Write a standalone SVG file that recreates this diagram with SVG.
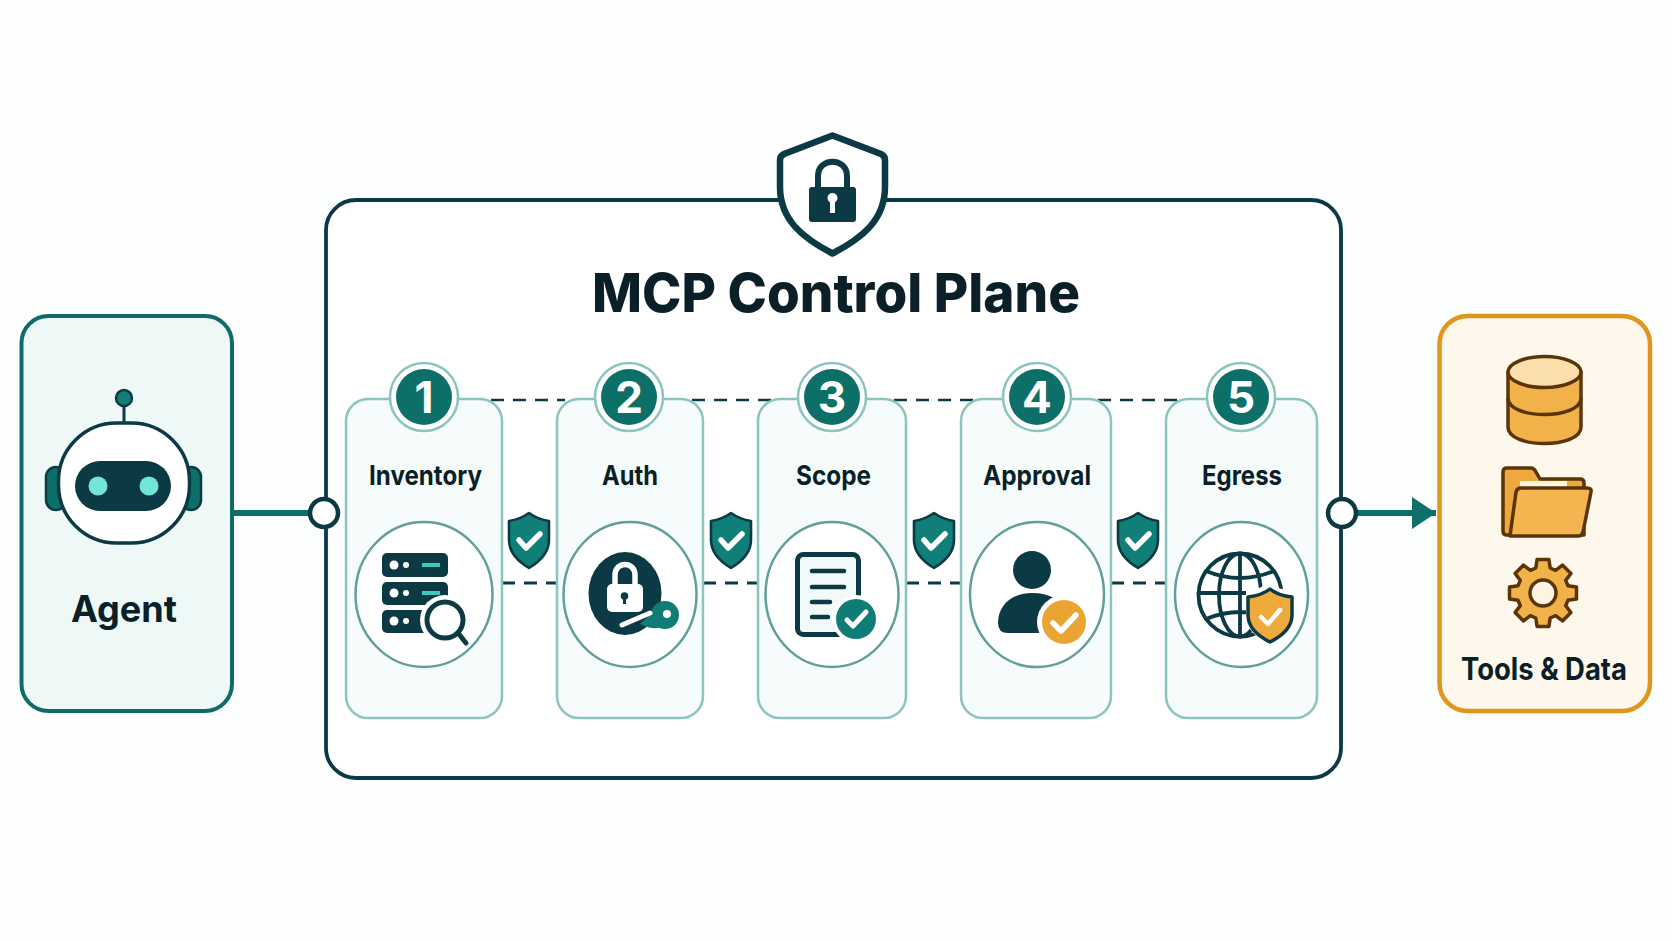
<svg xmlns="http://www.w3.org/2000/svg" width="1672" height="941" viewBox="0 0 1672 941">
<style>
text{font-family:Inter,"Liberation Sans",sans-serif;text-anchor:middle;fill:#0a1f27}
.lbl{font-size:27.5px;font-weight:700}
.num{font-size:44px;font-weight:700;fill:#fff}
.card{fill:#f6fbfb;stroke:#8cc4bf;stroke-width:2.5}
.ring{fill:#fff;stroke:#8cc4bf;stroke-width:2.5}
.disc{fill:#0c6f68}
.well{fill:#fff;stroke:#609f9a;stroke-width:2.5}
.dk{fill:#0c3a44}
.ln{fill:none;stroke:#0c3a44;stroke-linecap:round}
.dash{fill:none;stroke:#0c3a44;stroke-width:2.6;stroke-dasharray:13 9}
.wire{fill:none;stroke:#0f6f69;stroke-width:6}
.port{fill:#fff;stroke:#0c3a44;stroke-width:4.5}
.chk{fill:none;stroke:#fff;stroke-linecap:round;stroke-linejoin:round}
.am{stroke:#5b3408;stroke-width:3.5;stroke-linejoin:round}
</style>
<defs>
<marker id="arrow" markerUnits="userSpaceOnUse" markerWidth="26" markerHeight="34" refX="24" refY="16" orient="auto"><path d="M0 0L24 16L0 32Z" fill="#0f6f69"/></marker>
<g id="shieldS">
<path d="M0-27C7-22 13-20 20-19V0C20 13 10 22 0 28C-10 22-20 13-20 0V-19C-13-20-7-22 0-27Z" fill="#0f7f78" stroke="#0c3a44" stroke-width="2.6" stroke-linejoin="round"/>
<path class="chk" d="M-10 0L-3 8L11-6" stroke-width="5.5"/>
</g>
</defs>
<rect width="1672" height="941" fill="#fdfefe"/>

<g id="control-plane">
<rect x="326" y="200" width="1015" height="578" rx="30" fill="#fff" stroke="#0c3a44" stroke-width="3.800"/>
<path d="M832.5 135.500L881 154Q885 156 885 160V187C885 220 862 238 832.500 253.500C803 238 780 220 780 187V160Q780 156 784 154Z" fill="#fff" stroke="#0c3a44" stroke-width="6.500" stroke-linejoin="round"/>
<path class="ln" stroke-width="6" d="M818 190V176C818 157 847 157 847 176V190"/>
<rect x="809" y="187" width="47" height="35" rx="3" class="dk"/>
<circle cx="832.500" cy="198" r="5" fill="#fff"/>
<rect x="830" y="198" width="5" height="15" fill="#fff"/>
<text x="836" y="312" style="font-size:54px;font-weight:800" textLength="488" lengthAdjust="spacingAndGlyphs">MCP Control Plane</text>
</g>

<g id="connectors">
<path class="wire" d="M234 513H312"/>
<path class="wire" d="M1356 513H1436" marker-end="url(#arrow)"/>
<path class="dash" d="M491 400H565M692 400H771M894 400H973M1098 400H1177"/>
<path class="dash" style="stroke-width:3" d="M502 583H557M703 583H758M906 583H961M1111 583H1166"/>
</g>

<g id="agent">
<rect x="21.500" y="316" width="210.500" height="395" rx="27" fill="#eef8f7" stroke="#0f6b68" stroke-width="4"/>
<path d="M124 423V402" class="ln" stroke-width="3"/>
<circle cx="124" cy="398" r="8" fill="#0f7f78" stroke="#0c3a44" stroke-width="2.500"/>
<rect x="46" y="467" width="20" height="43" rx="10" fill="#0c7069" stroke="#0c3a44" stroke-width="2.500"/>
<rect x="181" y="467" width="20" height="43" rx="10" fill="#0c7069" stroke="#0c3a44" stroke-width="2.500"/>
<rect x="58.500" y="423" width="131" height="120" rx="58" fill="#fff" stroke="#0c3a44" stroke-width="3.500"/>
<rect x="75" y="461" width="96" height="50" rx="25" class="dk"/>
<circle cx="98" cy="486" r="9.500" fill="#72e4d8"/>
<circle cx="149" cy="486" r="9.500" fill="#72e4d8"/>
<text x="124" y="622" style="font-size:37px;font-weight:700" textLength="106" lengthAdjust="spacingAndGlyphs">Agent</text>
</g>

<g id="port-in"><circle class="port" cx="324" cy="513" r="14"/></g>
<g id="port-out"><circle class="port" cx="1342" cy="513" r="14"/></g>

<g id="step-1">
<rect class="card" x="346" y="399" width="156" height="319" rx="22"/>
<circle class="ring" cx="424" cy="397" r="34"/><circle class="disc" cx="424" cy="397" r="28"/>
<text class="num" x="424" y="412.500">1</text>
<text class="lbl" x="425.500" y="485" textLength="113" lengthAdjust="spacingAndGlyphs">Inventory</text>
<ellipse class="well" cx="424" cy="594.500" rx="68.500" ry="72.500"/>
<rect class="dk" x="382" y="553" width="66" height="24" rx="5"/>
<rect class="dk" x="382" y="582" width="66" height="23" rx="5"/>
<rect class="dk" x="382" y="610" width="50" height="23" rx="5"/>
<g fill="#fff"><circle cx="394" cy="565" r="4.500"/><circle cx="406" cy="565" r="3"/><circle cx="394" cy="593" r="4.500"/><circle cx="406" cy="593" r="3"/><circle cx="394" cy="621" r="4.500"/><circle cx="406" cy="621" r="3"/></g>
<rect x="422" y="563" width="18" height="4" fill="#3fc9b8"/><rect x="422" y="591" width="18" height="4" fill="#3fc9b8"/>
<circle cx="445" cy="620" r="25" fill="#fff"/>
<circle cx="445" cy="620" r="18" fill="#fff" stroke="#0c3a44" stroke-width="5"/>
<path class="ln" stroke-width="5" d="M458 633L466 643"/>
</g>

<g id="step-2">
<rect class="card" x="557" y="399" width="146" height="319" rx="22"/>
<circle class="ring" cx="629" cy="397" r="34"/><circle class="disc" cx="629" cy="397" r="28"/>
<text class="num" x="629" y="412.500">2</text>
<text class="lbl" x="630" y="485" textLength="56" lengthAdjust="spacingAndGlyphs">Auth</text>
<ellipse class="well" cx="630" cy="594.500" rx="66.500" ry="72.500"/>
<ellipse class="dk" cx="625" cy="593.500" rx="36.500" ry="41.500"/>
<path class="ln" style="stroke:#fff" stroke-width="5.500" d="M615 586V575C615 561 635 561 635 575V586"/>
<rect x="607" y="584" width="36" height="28" rx="5" fill="#fff"/>
<circle cx="624.500" cy="596" r="3.800" fill="#0c3a44"/><rect x="623" y="596" width="3" height="8" fill="#0c3a44"/>
<path d="M640 624L655 610L668 625Q655 632 640 624Z" fill="#0f7d76"/>
<circle cx="665" cy="615" r="14" fill="#0f7d76"/><circle cx="667" cy="614" r="4" fill="#fff"/>
<path fill="none" stroke="#fff" stroke-width="5" stroke-linecap="round" d="M622 625L650 613"/>
</g>

<g id="step-3">
<rect class="card" x="758" y="399" width="148" height="319" rx="22"/>
<circle class="ring" cx="832" cy="397" r="34"/><circle class="disc" cx="832" cy="397" r="28"/>
<text class="num" x="832" y="412.500">3</text>
<text class="lbl" x="833.500" y="485" textLength="75" lengthAdjust="spacingAndGlyphs">Scope</text>
<ellipse class="well" cx="832" cy="594.500" rx="66.500" ry="72.500"/>
<rect x="797.500" y="554.500" width="61" height="80" rx="6" fill="#f2f9f9" stroke="#0c3a44" stroke-width="5"/>
<path class="ln" stroke-width="4.500" d="M812 571H844M812 587H844M812 602H830M812 617H828"/>
<circle cx="856" cy="619" r="24" fill="#fff"/>
<circle cx="856" cy="619" r="20" fill="#0f7d76"/>
<path class="chk" stroke-width="5" d="M847 620L853 626L866 612"/>
</g>

<g id="step-4">
<rect class="card" x="961" y="399" width="150" height="319" rx="22"/>
<circle class="ring" cx="1037" cy="397" r="34"/><circle class="disc" cx="1037" cy="397" r="28"/>
<text class="num" x="1037" y="412.500">4</text>
<text class="lbl" x="1037" y="485" textLength="108" lengthAdjust="spacingAndGlyphs">Approval</text>
<ellipse class="well" cx="1037" cy="594.500" rx="67" ry="72.500"/>
<circle class="dk" cx="1032" cy="570" r="19"/>
<path class="dk" d="M998 623C998 605 1012 593 1032 593C1050 593 1060 600 1064 610V633H1008Q998 633 998 623Z"/>
<circle cx="1064" cy="622" r="27" fill="#fff"/>
<circle cx="1064" cy="622" r="22" fill="#e9a431"/>
<path class="chk" stroke-width="5.500" d="M1053 623L1061 631L1076 615"/>
</g>

<g id="step-5">
<rect class="card" x="1166" y="399" width="151" height="319" rx="22"/>
<circle class="ring" cx="1241" cy="397" r="34"/><circle class="disc" cx="1241" cy="397" r="28"/>
<text class="num" x="1241" y="412.500">5</text>
<text class="lbl" x="1242" y="485" textLength="80" lengthAdjust="spacingAndGlyphs">Egress</text>
<ellipse class="well" cx="1241.500" cy="594.500" rx="66.500" ry="72.500"/>
<g class="ln" stroke-width="3.800">
<circle cx="1240" cy="595" r="41.500"/>
<ellipse cx="1240" cy="595" rx="21" ry="41.500"/>
<path d="M1240 553.500V636.500M1198.500 593H1281.500M1206 571Q1240 585 1274 571M1206 619Q1240 605 1274 619"/>
</g>
<path d="M1268 582C1274 588 1284 590 1293 591V616C1293 630 1280 638 1270 644C1258 638 1246 630 1246 616V591C1255 590 1262 588 1268 582Z" fill="#fff"/>
<path d="M1270 589C1275 593 1284 596 1292 597V615C1292 628 1280 637 1270 642C1260 637 1248 628 1248 615V597C1256 596 1265 593 1270 589Z" fill="#efaa3c" stroke="#0c3a44" stroke-width="3.500" stroke-linejoin="round"/>
<path class="chk" stroke-width="4.500" d="M1261 617L1268 624L1280 610"/>
</g>

<g id="check-1"><use href="#shieldS" x="529" y="540"/></g>
<g id="check-2"><use href="#shieldS" x="731" y="540"/></g>
<g id="check-3"><use href="#shieldS" x="934" y="540"/></g>
<g id="check-4"><use href="#shieldS" x="1138" y="540"/></g>

<g id="tools-data">
<rect x="1439.500" y="316" width="210.500" height="395" rx="28" fill="#fdf7ec" stroke="#e0951f" stroke-width="4.500"/>
<path class="am" fill="#f2b24a" d="M1508 372V427C1508 449 1581 449 1581 427V372Z"/>
<path class="am" fill="none" d="M1508 398C1508 420 1581 420 1581 398"/>
<ellipse class="am" cx="1544.500" cy="372" rx="36.500" ry="15.500" fill="#fbdfae"/>
<path class="am" fill="#eda93d" d="M1503 472Q1503 468 1507 468H1531Q1534 468 1536 472L1540 479H1580Q1584 479 1584 483V535H1507Q1503 535 1503 531Z"/>
<rect x="1520" y="481" width="47" height="10" fill="#fff6e2"/>
<path class="am" fill="#f4b550" d="M1516 492Q1517 488 1521 488H1587Q1592 488 1591 492L1583 532Q1582 536 1578 536H1510Z"/>
<path class="am" fill="#f2b24a" transform="translate(1543 593)" d="M-7.200-25L-5.900-33.500H5.900L7.200-25L12.600-22.700L19.500-27.900L27.900-19.500L22.700-12.600L25-7.200L33.500-5.900V5.900L25 7.200L22.700 12.600L27.900 19.500L19.500 27.900L12.600 22.700L7.200 25L5.900 33.500H-5.900L-7.200 25L-12.600 22.700L-19.500 27.900L-27.900 19.500L-22.700 12.600L-25 7.200L-33.500 5.900V-5.900L-25-7.200L-22.700-12.600L-27.900-19.500L-19.500-27.900L-12.600-22.700Z"/>
<circle class="am" cx="1543" cy="593" r="13" fill="#fdf4e2"/>
<text x="1544" y="680" style="font-size:31px;font-weight:700" textLength="166" lengthAdjust="spacingAndGlyphs">Tools &amp; Data</text>
</g>
</svg>
